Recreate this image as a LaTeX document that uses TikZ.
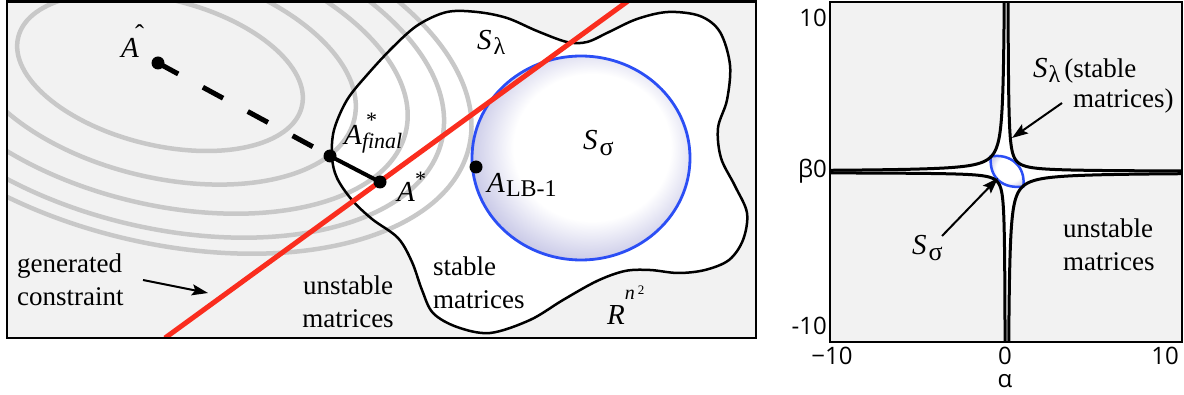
\documentclass[tikz,border=0pt]{standalone}
\usepackage{fontspec}
\setmainfont{Liberation Serif}
\newfontfamily\tickfont{Open Sans}
\usetikzlibrary{arrows.meta}
\definecolor{bgray}{HTML}{F2F2F2}
\definecolor{cgray}{HTML}{C8C8C8}
\definecolor{redl}{HTML}{FA2D1E}
\definecolor{bluel}{HTML}{2B4EF5}
\definecolor{lav}{HTML}{CBCBE8}
\pgfdeclareradialshading{sshade}{\pgfpoint{4bp}{4bp}}{color(0bp)=(white); color(18bp)=(white); color(27bp)=(lav); color(50bp)=(lav)}
\begin{document}
\begin{tikzpicture}[x=1pt,y=-1pt,
  txt/.style={font=\fontsize{27}{33}\selectfont, inner sep=0pt},
  mlab/.style={font=\fontsize{29}{29}\selectfont, inner sep=0pt, anchor=base west},
  tick/.style={font=\tickfont\fontsize{24}{24}\selectfont, inner sep=0pt, anchor=base},
  contour/.style={draw=cgray, line width=4.5pt},
  dot/.style={circle, fill=black, inner sep=0pt, minimum size=13pt},
  arr/.style={line width=2pt, -{Stealth[length=16pt,width=11pt,inset=3pt]}},
  blob/.style={line width=2.5pt},
  branch/.style={line width=3pt, samples=120, variable=\t},
]
\useasboundingbox (0,0) rectangle (1184,395);
% ---------------- left panel ----------------
\fill[bgray] (7,1.5) rectangle (756,338);
\begin{scope}
\clip (7,1.5) rectangle (756,338);
\fill[white] plot[smooth cycle, tension=0.55] coordinates {(332,157) (334,130) (347,100) (367,75) (393,47) (418,25) (447,12) (477,12) (507,18) (537,31) (567,42) (587,42) (609,32) (637,19) (668,12) (700,16) (720,32) (730,65) (727,100) (718,128) (721,158) (735,186) (747,213) (743,240) (729,260) (705,270) (678,273) (650,270) (625,271) (597,281) (563,300) (530,320) (490,333) (457,327) (433,313) (422,290) (412,262) (398,238) (372,219) (352,200) (337,178)};
\foreach \a/\b in {146/73,200/105,253/132,290/155,318/170}{
  \draw[contour, rotate around={-13.8:(160,72)}] (160,72) ellipse [x radius=\a pt, y radius=\b pt];
}
\draw[blob] plot[smooth cycle, tension=0.55] coordinates {(332,157) (334,130) (347,100) (367,75) (393,47) (418,25) (447,12) (477,12) (507,18) (537,31) (567,42) (587,42) (609,32) (637,19) (668,12) (700,16) (720,32) (730,65) (727,100) (718,128) (721,158) (735,186) (747,213) (743,240) (729,260) (705,270) (678,273) (650,270) (625,271) (597,281) (563,300) (530,320) (490,333) (457,327) (433,313) (422,290) (412,262) (398,238) (372,219) (352,200) (337,178)};
\shadedraw[shading=sshade, draw=bluel, line width=2.8pt] (581,158) ellipse [x radius=109pt, y radius=102pt];
\coordinate (r1) at (165,338);
\coordinate (r2) at (628,1);
\draw[redl, line width=5pt] (r1) -- (r2);
\end{scope}
\node[dot] (ahat) at (158,63) {};
\node[dot] (afin) at (330,156) {};
\node[dot] (astar) at (380,182) {};
\node[dot] (alb) at (476,167) {};
\draw[line width=5pt, dash pattern=on 23pt off 28pt] (ahat.center) -- (afin.center);
\draw[line width=4pt] (afin.center) -- (astar.center);
\node[mlab] (lahat) at (121,58) {\textit{A}\hspace{-4pt}\raisebox{14pt}{\fontsize{27}{27}\selectfont ˆ}};
\node[mlab] (lafin) at (344,145) {\textit{A}\rlap{\raisebox{-4pt}{\fontsize{22}{22}\selectfont\textit{final}}}\hspace{4pt}\raisebox{17pt}{\fontsize{22}{22}\selectfont *}};
\node[mlab] (lastar) at (397,202) {\textit{A}\raisebox{15pt}{\fontsize{22}{22}\selectfont *}};
\node[mlab] (lalb) at (487,193) {\textit{A}\hspace{1pt}\raisebox{-4pt}{\fontsize{24}{24}\selectfont LB-1}};
\node[mlab] (slam) at (477,50) {\textit{S}\hspace{2pt}\raisebox{-5pt}{\fontsize{24}{24}\selectfont λ}};
\node[mlab] (ssig) at (583,150) {\textit{S}\hspace{2pt}\raisebox{-6pt}{\fontsize{26}{26}\selectfont σ}};
\node[mlab] (rn2) at (607,325) {\textit{R}\raisebox{25pt}{\fontsize{20}{20}\selectfont\textit{n}\hspace{3pt}\raisebox{5pt}{\fontsize{13}{13}\selectfont 2}}};
\node[txt, align=left, anchor=west] (gen) at (17,280) {generated\\constraint};
\node[txt, align=center] (unst) at (348,302) {unstable\\matrices};
\node[txt, align=left, anchor=west] (stab) at (433,283) {stable\\matrices};
\coordinate (g1) at (143,280);
\coordinate (g2) at (208,293);
\draw[arr] (g1) -- (g2);
\draw[line width=2.5pt] (7,1.5) rectangle (756,338);
% ---------------- right panel ----------------
\fill[bgray] (830,2) rectangle (1182,342);
\begin{scope}
\clip (830,2) rectangle (1182,342);
\fill[white] plot[samples=120, variable=\t, domain=5.2:0.05] ({1005.5-exp(\t)},{171.5-215*exp(-\t)})
  -- plot[samples=120, variable=\t, domain=-0.8:5.2] ({1007.5+exp(\t)},{171.5-95*exp(-\t)})
  -- plot[samples=120, variable=\t, domain=5.2:0.05] ({1007.5+exp(\t)},{172.5+213*exp(-\t)})
  -- plot[samples=120, variable=\t, domain=-0.9:5.2] ({1005.5-exp(\t)},{172.5+75*exp(-\t)}) -- cycle;
\shadedraw[shading=sshade, draw=bluel, line width=2.5pt] (990.7,156.5) .. controls (1010,153) and (1026,166) .. (1023.3,186.5) .. controls (1005,189) and (989,180) .. cycle;
\draw[branch, domain=5.2:0.05] plot ({1005.5-exp(\t)},{171.5-215*exp(-\t)});
\draw[branch, domain=-0.8:5.2] plot ({1007.5+exp(\t)},{171.5-95*exp(-\t)});
\draw[branch, domain=5.2:0.05] plot ({1007.5+exp(\t)},{172.5+213*exp(-\t)});
\draw[branch, domain=-0.9:5.2] plot ({1005.5-exp(\t)},{172.5+75*exp(-\t)});
\end{scope}
\draw[line width=2.5pt] (830,2) rectangle (1182,342);
\node[tick, anchor=base east] (t10) at (827,27) {10};
\node[tick, anchor=base east] (t0) at (827,178) {β0};
\node[tick, anchor=base east] (tm10) at (827,335) {-10};
\node[tick] (bm10) at (832,365) {−10};
\node[tick] (b0) at (1005,365) {0};
\node[tick] (b10) at (1165,365) {10};
\node[tick] (alpha) at (1005,388) {α};
\node[mlab] (rslam) at (1033,78) {\textit{S}\hspace{1pt}\raisebox{-5pt}{\fontsize{24}{24}\selectfont λ}\hspace{4pt}\fontsize{27}{27}\selectfont(stable};
\node[txt, anchor=base west] (rmat) at (1073,108) {matrices)};
\node[mlab] (rssig) at (912,255) {\textit{S}\hspace{2pt}\raisebox{-6pt}{\fontsize{26}{26}\selectfont σ}};
\node[txt, align=left, anchor=west] (runst) at (1063,245) {unstable\\matrices};
\coordinate (ra1) at (1062,103);
\coordinate (ra2) at (1012,138);
\coordinate (rb1) at (942,236);
\coordinate (rb2) at (998,178);
\draw[arr] (ra1) -- (ra2);
\draw[arr] (rb1) -- (rb2);
\end{tikzpicture}
\end{document}
